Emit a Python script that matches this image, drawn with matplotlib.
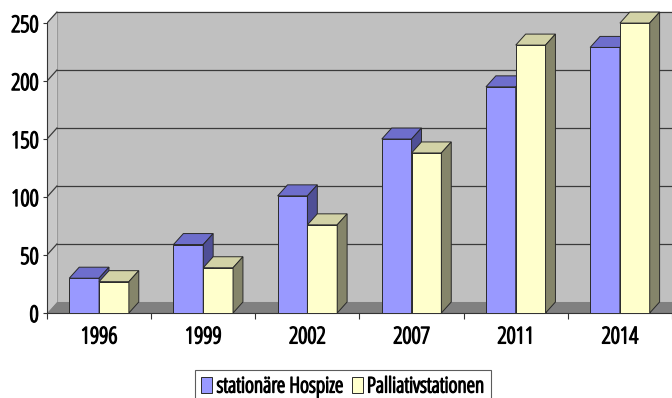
import matplotlib
matplotlib.use('Agg')
import matplotlib.pyplot as plt
import matplotlib.patheffects as pe
from matplotlib.patches import Polygon, Rectangle

# ── Data ───────────────────────────────────────────────────────────────────────
years = ['1996', '1999', '2002', '2007', '2011', '2014']
hospize = [30, 59, 101, 150, 195, 229]
palliativ = [27, 39, 76, 138, 231, 250]
series_names = ['stationäre Hospize', 'Palliativstationen']
yticks = [0, 50, 100, 150, 200, 250]

# ── Style ──────────────────────────────────────────────────────────────────────
plt.rcParams['font.family'] = ['Open Sans', 'DejaVu Sans']
plt.rcParams['font.stretch'] = 'condensed'
plt.rcParams['font.weight'] = 'light'
# narrow font is light, thicken it a bit to look like the original
THICK = [pe.withStroke(linewidth=1.0, foreground='black')]
FS_TICK = 16.5
FS_LEG = 15.5

blue = ('#9999ff', '#6e6ecc', '#4f4f96')     # front, top, side
yellow = ('#ffffcc', '#d2d2a6', '#85856a')
WALL = '#c0c0c0'
FLOOR = '#808080'
EDGE = '#2a2a2a'

BAR_W = 0.286
DX = 0.095       # depth offset in x (category units)
DY = 9.5         # depth offset in y (value units)
YMAX = 250

fig = plt.figure(figsize=(6.72, 3.98), dpi=100)
ax = fig.add_axes([47 / 672, 85 / 398, 625 / 672, 305 / 398])
ax.set_xlim(-0.5, 5.452)
ax.set_ylim(0, 263)
ax.set_facecolor('white')

x0 = -0.5
x1 = 7.0

# back wall
ax.add_patch(Rectangle((x0 + DX, DY), x1 - x0, YMAX, facecolor=WALL,
                       edgecolor='none', zorder=0))
ax.plot([x0 + DX, x1], [YMAX + DY, YMAX + DY], color='#d8d8d8', lw=1, zorder=1)
# left wall
ax.add_patch(Polygon([(x0, 0), (x0 + DX, DY), (x0 + DX, YMAX + DY), (x0, YMAX)],
                     facecolor='#c8c8c8', edgecolor='none', zorder=0))
ax.plot([x0 + DX, x0 + DX], [DY, YMAX + DY], color='#9a9a9a', lw=0.8, zorder=1)
# floor
ax.add_patch(Polygon([(x0, 0), (x0 + DX, DY), (x1, DY), (x1, 0)],
                     facecolor=FLOOR, edgecolor='none', zorder=1))

# gridlines on back + left wall
for v in yticks[1:]:
    ax.plot([x0 + DX, x1], [v + DY, v + DY], color='#3a3a3a', lw=0.9, zorder=1)
    ax.plot([x0, x0 + DX], [v, v + DY], color='#3a3a3a', lw=0.9, zorder=1)


def bar3d(xl, h, cols):
    ax.bar(xl, h, width=BAR_W, align='edge', color=cols[0], edgecolor=EDGE,
           linewidth=0.7, zorder=3)
    xr = xl + BAR_W
    ax.add_patch(Polygon([(xl, h), (xl + DX, h + DY), (xr + DX, h + DY), (xr, h)],
                         facecolor=cols[1], edgecolor=EDGE, lw=0.7, zorder=3))
    ax.add_patch(Polygon([(xr, 0), (xr + DX, DY), (xr + DX, h + DY), (xr, h)],
                         facecolor=cols[2], edgecolor=EDGE, lw=0.7, zorder=3))


for i in range(len(years)):
    bar3d(i - BAR_W, hospize[i], blue)
    bar3d(i, palliativ[i], yellow)

# axes
for s in ['top', 'right']:
    ax.spines[s].set_visible(False)
ax.spines['left'].set_bounds(0, YMAX)
ax.spines['left'].set_color('#333333')
ax.spines['bottom'].set_color('#333333')
ax.set_yticks(yticks)
ax.set_yticklabels([str(v) for v in yticks], fontsize=FS_TICK)
ax.tick_params(axis='y', length=3, pad=3, colors='#333333', labelcolor='black')
for lab in ax.get_yticklabels():
    lab.set_path_effects(THICK)
ax.set_xticks([i - 0.5 for i in range(len(years) + 1)])
ax.set_xticklabels([])
ax.tick_params(axis='x', length=4, colors='#333333')
for i, yr in enumerate(years):
    ax.text(i, -21, yr, ha='center', va='center', fontsize=FS_TICK,
            transform=ax.transData, clip_on=False, path_effects=THICK)

# legend
handles = [Rectangle((0, 0), 1, 1, facecolor=blue[0], edgecolor=EDGE, lw=0.7),
           Rectangle((0, 0), 1, 1, facecolor=yellow[0], edgecolor=EDGE, lw=0.7)]
leg = fig.legend(handles, series_names, loc='upper left',
                 bbox_to_anchor=(195 / 672, 1 - 370 / 398), ncol=2,
                 fontsize=FS_LEG, frameon=True, fancybox=False, edgecolor='#333333',
                 handlelength=0.5, handleheight=0.75, handletextpad=0.2,
                 columnspacing=0.4, borderpad=0.3, borderaxespad=0)
leg.get_frame().set_linewidth(0.8)
for t in leg.get_texts():
    t.set_path_effects(THICK)

fig.savefig('out.png', dpi=100)
